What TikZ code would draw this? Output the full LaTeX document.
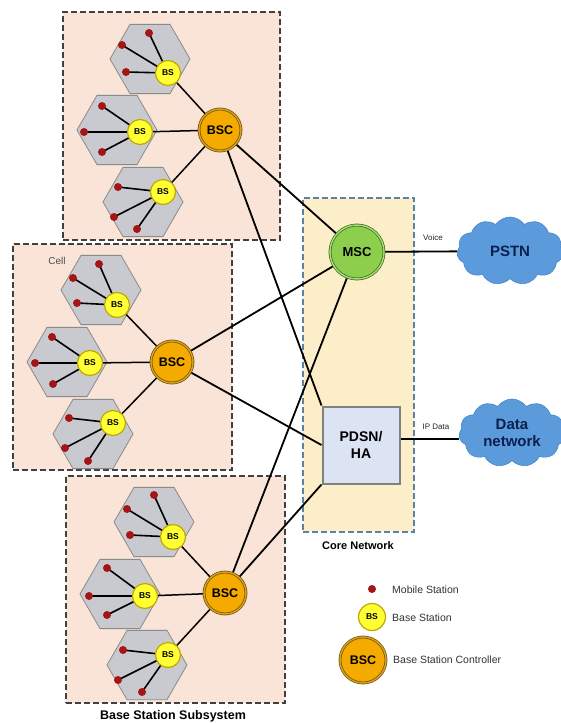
\documentclass[tikz,border=0pt]{standalone}
\usepackage{fontspec}
\setmainfont{Liberation Sans}
\usetikzlibrary{shapes.geometric,shapes.symbols}
\definecolor{bssfill}{HTML}{F9E4D7}
\definecolor{corefill}{HTML}{FCEEC8}
\definecolor{coreline}{HTML}{5A82A6}
\definecolor{hexfill}{HTML}{C9CACF}
\definecolor{hexline}{HTML}{8A8A8A}
\definecolor{msred}{HTML}{A51515}
\definecolor{bsyellow}{HTML}{FFFF33}
\definecolor{bsline}{HTML}{BFA800}
\definecolor{bscfill}{HTML}{F5AA00}
\definecolor{bscline}{HTML}{6E5410}
\definecolor{bscring}{HTML}{D9A020}
\definecolor{mscfill}{HTML}{8DCF4C}
\definecolor{mscline}{HTML}{3C6A1C}
\definecolor{mscring}{HTML}{A9DC7A}
\definecolor{pdsnfill}{HTML}{DCE3F3}
\definecolor{cloudblue}{HTML}{5B9BDB}
\definecolor{cloudline}{HTML}{4A86C8}
\definecolor{cloudtext}{HTML}{0D1F4D}
\pgfdeclarelayer{paper}
\pgfdeclarelayer{boxes}
\pgfdeclarelayer{wires}
\pgfsetlayers{paper,boxes,wires,main}
\tikzset{
  bssbox/.style={draw=black!75, fill=bssfill, dash pattern=on 6pt off 3pt, line width=1.5pt, inner sep=0pt},
  corebox/.style={draw=coreline, fill=corefill, dash pattern=on 6pt off 3pt, line width=1.5pt, inner sep=0pt},
  hexcell/.style={regular polygon, regular polygon sides=6, minimum size=80pt, inner sep=0pt, fill=hexfill, draw=hexline, line width=0.8pt},
  msdot/.style={circle, fill=msred, minimum size=8pt, inner sep=0pt},
  bsnode/.style={circle, fill=bsyellow, draw=bsline, line width=1.2pt, minimum size=25pt, inner sep=0pt, font=\fontsize{8.5}{9}\selectfont\bfseries},
  bscnode/.style={circle, fill=bscfill, draw=bscline, double=bscring, double distance=1.4pt, line width=0.7pt, minimum size=42pt, inner sep=0pt, font=\fontsize{12.5}{13}\selectfont\bfseries},
  mscnode/.style={circle, fill=mscfill, draw=mscline, double=mscring, double distance=1.4pt, line width=0.7pt, minimum size=54pt, inner sep=0pt, font=\fontsize{13}{14}\selectfont\bfseries},
  pdsnnode/.style={rectangle, fill=pdsnfill, draw=black!50, line width=2pt, minimum width=77pt, minimum height=77pt, inner sep=0pt, align=center, font=\fontsize{14}{17}\selectfont\bfseries},
  cloudnode/.style={cloud, cloud puffs=11, cloud puff arc=110, aspect=1.5, fill=cloudblue, draw=cloudline, line width=0.6pt, minimum width=106pt, minimum height=68pt, inner sep=0pt, align=center, text=cloudtext, font=\fontsize{15}{17}\selectfont\bfseries},
  wire/.style={draw=black, line width=1.8pt},
  bswire/.style={draw=black, line width=1.5pt},
  mswire/.style={draw=black, line width=1.6pt},
  smalllabel/.style={inner sep=0pt, text=black!85, font=\fontsize{8}{9}\selectfont},
  legendtext/.style={anchor=west, inner sep=0pt, text=black!80, font=\fontsize{10.5}{12}\selectfont},
  title/.style={inner sep=0pt, font=\fontsize{12.5}{14}\selectfont\bfseries}
}
\begin{document}
\begin{tikzpicture}[x=1pt,y=-1pt]
\useasboundingbox (0,0) rectangle (560,723);
\begin{pgfonlayer}{paper}
\fill[white] (0,0) rectangle (560,723);
\end{pgfonlayer}

\begin{pgfonlayer}{boxes}
\node[bssbox, minimum width=217pt, minimum height=228pt] (box1) at (171.5,126) {};
\node[bssbox, minimum width=219pt, minimum height=226pt] (box2) at (122.5,357) {};
\node[bssbox, minimum width=219pt, minimum height=227pt] (box3) at (175.5,589.5) {};
\node[corebox, minimum width=111pt, minimum height=334pt] (core) at (358.5,365) {};
\end{pgfonlayer}

\foreach \n/\hx/\hy/\bx/\by/\ax/\ay/\cx/\cy/\dx/\dy in {
  a1/150/59/168/73/149/33/122/45/126/72,
  a2/117/130/140/132/102/106/84/132/102/152,
  a3/143/202/163/192/118/187/114/217/137/229,
  b1/101/290/117/305/99/264/73/278/77/303,
  b2/67/362/90/363/52/337/35/363/53/384,
  b3/93/434/113/423/69/418/65/448/88/461,
  c1/154/522/173/537/154/495/127/509/130/535,
  c2/120/594/145/596/107/568/89/596/107/615,
  c3/147/665/168/655/123/650/118/680/142/692}{
  \begin{pgfonlayer}{boxes}
    \node[hexcell] (\n-hex) at (\hx,\hy) {};
  \end{pgfonlayer}
  \node[msdot] (\n-m1) at (\ax,\ay) {};
  \node[msdot] (\n-m2) at (\cx,\cy) {};
  \node[msdot] (\n-m3) at (\dx,\dy) {};
  \node[bsnode] (\n) at (\bx,\by) {BS};
  \begin{pgfonlayer}{wires}
    \draw[mswire] (\n.center) -- (\n-m1.center);
    \draw[mswire] (\n.center) -- (\n-m2.center);
    \draw[mswire] (\n.center) -- (\n-m3.center);
  \end{pgfonlayer}
}

\node[bscnode] (bscA) at (220,130) {BSC};
\node[bscnode] (bscB) at (172,362) {BSC};
\node[bscnode] (bscC) at (225,593) {BSC};

\node[mscnode] (msc) at (357,252) {MSC};
\node[pdsnnode] (pdsn) at (361,445) {PDSN/\\HA};

\node[cloudnode] (pstn) at (510,251) {PSTN};
\node[cloudnode] (data) at (512,433) {Data\\network};

\begin{pgfonlayer}{wires}
  \draw[bswire] (bscA) -- (a1);
  \draw[bswire] (bscA) -- (a2);
  \draw[bswire] (bscA) -- (a3);
  \draw[bswire] (bscB) -- (b1);
  \draw[bswire] (bscB) -- (b2);
  \draw[bswire] (bscB) -- (b3);
  \draw[bswire] (bscC) -- (c1);
  \draw[bswire] (bscC) -- (c2);
  \draw[bswire] (bscC) -- (c3);
  \draw[wire] (bscA) -- (msc);
  \draw[wire] (bscA) -- (pdsn.north west);
  \draw[wire] (bscB) -- (msc);
  \draw[wire] (bscB) -- (pdsn.west);
  \draw[wire] (bscC) -- (msc);
  \draw[wire] (bscC) -- (pdsn.south west);
  \draw[wire] (msc) -- (pstn);
  \draw[wire] ([yshift=6pt]pdsn.east) -- ([yshift=6pt]pdsn.east -| data.west);
\end{pgfonlayer}

\node[smalllabel] (voice) at (433,238) {Voice};
\node[smalllabel] (ipdata) at (436,427) {IP Data};
\node[inner sep=0pt, text=black!70, font=\fontsize{10}{11}\selectfont] (celllbl) at (57,261) {Cell};
\node[title, font=\fontsize{11}{12}\selectfont\bfseries] (corelbl) at (358,546) {Core Network};
\node[title] (bsslbl) at (173,716) {Base Station Subsystem};

\node[msdot] (lgms) at (372,589) {};
\node[legendtext] (lgmst) at (392,590) {Mobile Station};
\node[bsnode, minimum size=27pt] (lgbs) at (372,617) {BS};
\node[legendtext] (lgbst) at (392,618) {Base Station};
\node[bscnode, minimum size=46pt] (lgbsc) at (363,660) {BSC};
\node[legendtext] (lgbsct) at (393,660) {Base Station Controller};
\end{tikzpicture}
\end{document}
